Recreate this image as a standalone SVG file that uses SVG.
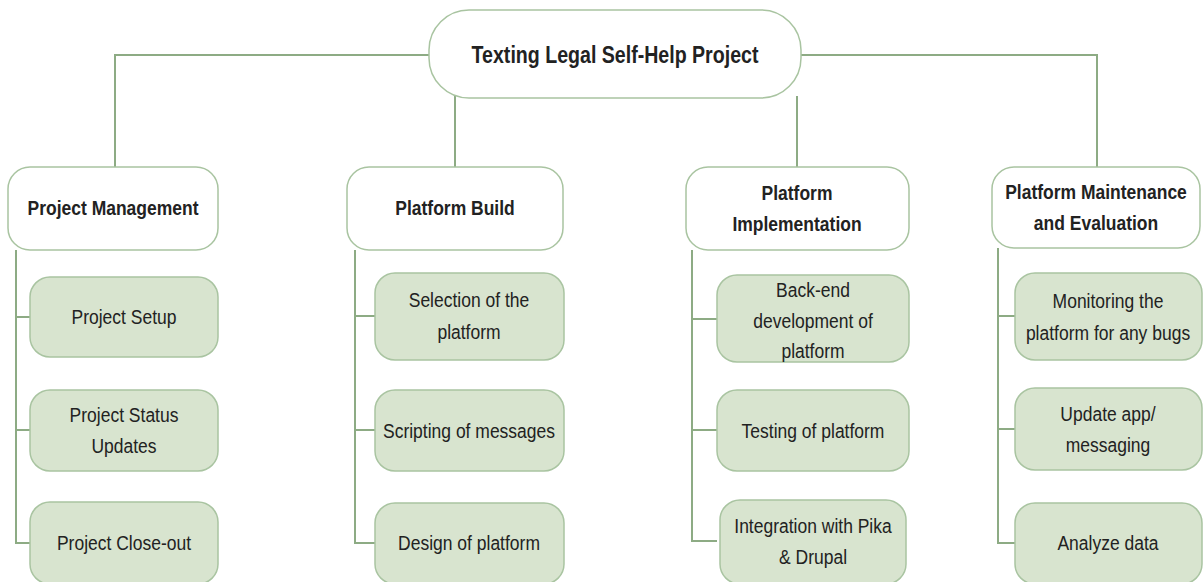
<svg xmlns="http://www.w3.org/2000/svg" width="1204" height="582" viewBox="0 0 1204 582">
<style>
.ln{fill:none;stroke:#8dab84;stroke-width:2}
.top{fill:#ffffff;stroke:#a9c4a1;stroke-width:1.5}
.sub{fill:#d8e4cf;stroke:#a9c4a1;stroke-width:1.5}
text{font-family:"Liberation Sans",Arial,sans-serif;fill:#222;text-anchor:middle;dominant-baseline:central}
.b{font-weight:bold;font-size:17.5px}
.r{font-size:17.5px}
.rt{font-weight:bold;font-size:19.6px}
</style>
<rect width="1204" height="582" fill="#ffffff"/>
<g id="connectors">
<path class="ln" d="M429,55 H115 V167"/>
<path class="ln" d="M801,55 H1097 V167"/>
<path class="ln" d="M455,96 V167"/>
<path class="ln" d="M797,96 V167"/>
<path class="ln" d="M16,250 V543 H30 M16,317 H30 M16,430 H30"/>
<path class="ln" d="M355,250 V543 H375 M355,316 H375 M355,430 H375"/>
<path class="ln" d="M692,250 V541 H717 M692,319 H717 M692,430 H717"/>
<path class="ln" d="M998,248 V543 H1015 M998,316 H1015 M998,429 H1015"/>
</g>
<g id="root">
<rect class="top" x="429" y="10" width="372" height="88" rx="40"/>
<text class="rt" transform="translate(615,55) scale(1,1.2)">Texting Legal Self-Help Project</text>
</g>
<g id="pm">
<rect class="top" x="8" y="167" width="210" height="83" rx="22"/>
<text class="b" transform="translate(113,208) scale(1,1.2)">Project Management</text>
</g>
<g id="pb">
<rect class="top" x="347" y="167" width="216" height="83" rx="22"/>
<text class="b" transform="translate(455,208) scale(1,1.2)">Platform Build</text>
</g>
<g id="pi">
<rect class="top" x="686" y="167" width="223" height="83" rx="22"/>
<text class="b" transform="translate(797,193) scale(1,1.2)">Platform<tspan x="0" dy="25">Implementation</tspan></text>
</g>
<g id="pme">
<rect class="top" x="992" y="167" width="208" height="81" rx="22"/>
<text class="b" transform="translate(1096,192) scale(1,1.2)">Platform Maintenance<tspan x="0" dy="25.5">and Evaluation</tspan></text>
</g>
<g id="pm1">
<rect class="sub" x="30" y="277" width="188" height="80" rx="20"/>
<text class="r" transform="translate(124,317) scale(1,1.2)">Project Setup</text>
</g>
<g id="pm2">
<rect class="sub" x="30" y="390" width="188" height="81" rx="20"/>
<text class="r" transform="translate(124,415) scale(1,1.2)">Project Status<tspan x="0" dy="25">Updates</tspan></text>
</g>
<g id="pm3">
<rect class="sub" x="30" y="502" width="188" height="82" rx="20"/>
<text class="r" transform="translate(124,543) scale(1,1.2)">Project Close-out</text>
</g>
<g id="pb1">
<rect class="sub" x="375" y="273" width="189" height="87" rx="20"/>
<text class="r" transform="translate(469,300) scale(1,1.2)">Selection of the<tspan x="0" dy="26.5">platform</tspan></text>
</g>
<g id="pb2">
<rect class="sub" x="375" y="390" width="189" height="81" rx="20"/>
<text class="r" transform="translate(469,431) scale(1,1.2)">Scripting of messages</text>
</g>
<g id="pb3">
<rect class="sub" x="375" y="503" width="189" height="81" rx="20"/>
<text class="r" transform="translate(469,543) scale(1,1.2)">Design of platform</text>
</g>
<g id="pi1">
<rect class="sub" x="717" y="275" width="192" height="87" rx="20"/>
<text class="r" transform="translate(813,290) scale(1,1.2)">Back-end<tspan x="0" dy="25">development of</tspan><tspan x="0" dy="25">platform</tspan></text>
</g>
<g id="pi2">
<rect class="sub" x="717" y="390" width="192" height="81" rx="20"/>
<text class="r" transform="translate(813,431) scale(1,1.2)">Testing of platform</text>
</g>
<g id="pi3">
<rect class="sub" x="720" y="500" width="186" height="84" rx="20"/>
<text class="r" transform="translate(813,526) scale(1,1.2)">Integration with Pika<tspan x="0" dy="25">&amp; Drupal</tspan></text>
</g>
<g id="pme1">
<rect class="sub" x="1015" y="273" width="187" height="87" rx="20"/>
<text class="r" transform="translate(1108,301) scale(1,1.2)">Monitoring the<tspan x="0" dy="26.5">platform for any bugs</tspan></text>
</g>
<g id="pme2">
<rect class="sub" x="1015" y="388" width="187" height="82" rx="20"/>
<text class="r" transform="translate(1108,414) scale(1,1.2)">Update app/<tspan x="0" dy="25.5">messaging</tspan></text>
</g>
<g id="pme3">
<rect class="sub" x="1015" y="503" width="187" height="81" rx="20"/>
<text class="r" transform="translate(1108,543) scale(1,1.2)">Analyze data</text>
</g>
</svg>
